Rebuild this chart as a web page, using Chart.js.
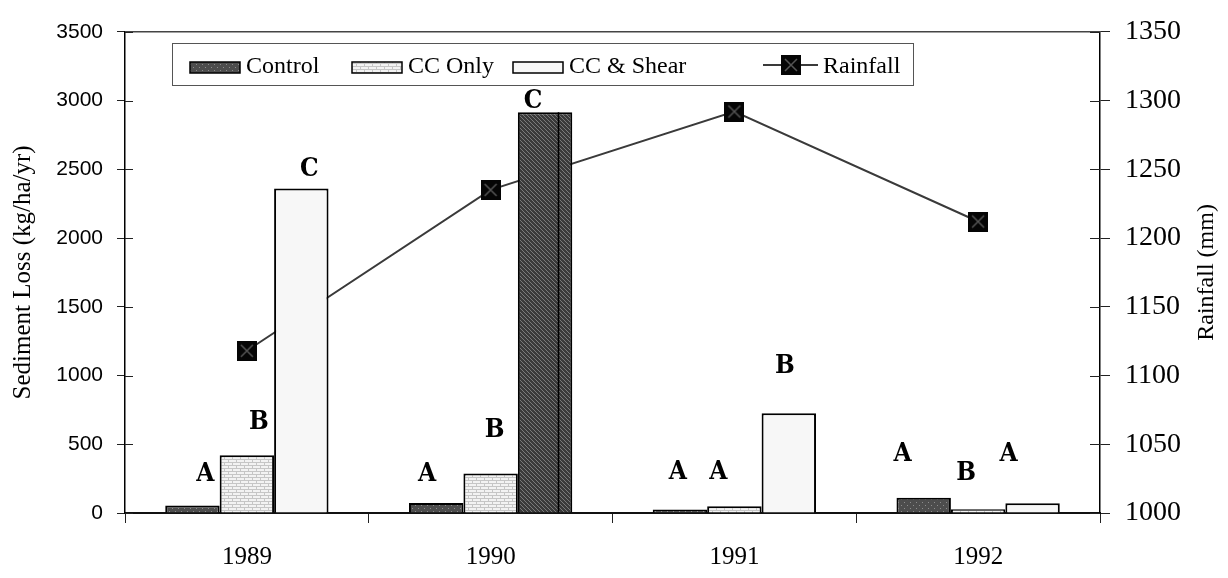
<!DOCTYPE html>
<html>
<head>
<meta charset="utf-8">
<script src="https://cdn.jsdelivr.net/npm/chart.js@4/dist/chart.umd.min.js"></script>
<style>
  html, body { margin: 0; padding: 0; background: #fff; }
  #wrap { width: 1228px; height: 578px; }
</style>
</head>
<body>
<div id="wrap"><canvas id="chart" width="1228" height="578"></canvas></div>
<script>
// values
const years = ['1989', '1990', '1991', '1992'];
const controlLoss = [55, 72, 25, 111];
const ccOnlyLoss = [420, 288, 50, 28];
const ccShearLoss = [2360, 2915, 725, 71];
const rainfall = [1118, 1235, 1292, 1212];

const lossTicks = [0, 500, 1000, 1500, 2000, 2500, 3000, 3500];
const rainTicks = [1000, 1050, 1100, 1150, 1200, 1250, 1300, 1350];

// significance letters, and the sediment-loss height they sit at
const controlLetters = ['A', 'A', 'A', 'A'];
const ccOnlyLetters = ['B', 'B', 'A', 'B'];
const ccShearLetters = ['C', 'C', 'B', 'A'];
const controlLetterAt = [285, 285, 295, 427];
const ccOnlyLetterAt = [660, 605, 295, 292];
const ccShearLetterAt = [2500, 2995, 1065, 427];
// small sideways nudge (px) of each letter from its bar centre
const letterShift = [[13, -9, -2, -21], [12, 4, -16, -12], [8, -12, -4, -24]];

const SERIF = '"Liberation Serif", "Times New Roman", serif';
const SANS = '"Liberation Sans", Arial, sans-serif';

function makePattern(w, h, paint) {
  const c = document.createElement('canvas');
  c.width = w; c.height = h;
  const g = c.getContext('2d');
  paint(g);
  return g.createPattern(c, 'repeat');
}

const dotted = makePattern(6, 6, g => {
  g.fillStyle = '#4d4d4d'; g.fillRect(0, 0, 6, 6);
  g.fillStyle = '#8c8c8c'; g.fillRect(1, 1, 1, 1); g.fillRect(4, 4, 1, 1);
});
const brick = makePattern(8, 6, g => {
  g.fillStyle = '#f3f3f3'; g.fillRect(0, 0, 8, 6);
  g.fillStyle = '#c6c6c6';
  g.fillRect(0, 0, 8, 1); g.fillRect(0, 3, 8, 1);
  g.fillRect(0, 0, 1, 3); g.fillRect(4, 3, 1, 3);
});
const hatch = makePattern(4, 4, g => {
  g.fillStyle = '#3a3a3a'; g.fillRect(0, 0, 4, 4);
  g.fillStyle = '#7a7a7a';
  for (let i = 0; i < 4; i++) g.fillRect(i, i, 1, 1);
});
const plain = '#f7f7f7';

const marker = document.createElement('canvas');
marker.width = 20; marker.height = 20;
(function () {
  const g = marker.getContext('2d');
  g.fillStyle = '#050505'; g.fillRect(0, 0, 20, 20);
  g.strokeStyle = '#555'; g.lineWidth = 1.5;
  g.beginPath(); g.moveTo(4, 4); g.lineTo(16, 16); g.moveTo(16, 4); g.lineTo(4, 16); g.stroke();
})();

const extras = {
  id: 'extras',
  beforeDatasetsDraw(chart) {
    const { ctx, chartArea: a, scales } = chart;
    ctx.save();
    ctx.strokeStyle = '#444';
    ctx.lineWidth = 1.5;
    ctx.beginPath();
    ctx.moveTo(a.left, a.top); ctx.lineTo(a.right, a.top);
    ctx.stroke();
    // inner halves of the crossing tick marks
    ctx.strokeStyle = '#222';
    ctx.lineWidth = 1;
    ctx.beginPath();
    lossTicks.forEach(v => {
      const y = Math.round(scales.y.getPixelForValue(v)) + 0.5;
      ctx.moveTo(a.left, y); ctx.lineTo(a.left + 8, y);
    });
    rainTicks.forEach(v => {
      const y = Math.round(scales.y2.getPixelForValue(v)) + 0.5;
      ctx.moveTo(a.right - 10, y); ctx.lineTo(a.right, y);
    });
    ctx.stroke();
    ctx.restore();
  },
  afterDatasetsDraw(chart) {
    // the hatched bar carries a thin seam line, as in the scan
    const { ctx } = chart;
    const ds = chart.data.datasets[2];
    ctx.save();
    ctx.strokeStyle = '#000';
    ctx.lineWidth = 1.5;
    chart.getDatasetMeta(2).data.forEach((el, j) => {
      if (ds.backgroundColor[j] !== hatch) return;
      const sx = Math.round(el.x + el.width * 0.23) + 0.5;
      ctx.beginPath(); ctx.moveTo(sx, el.y); ctx.lineTo(sx, el.base); ctx.stroke();
    });
    ctx.restore();
  },
  afterDraw(chart) {
    const { ctx, chartArea: a } = chart;
    ctx.save();

    // axis titles, both read bottom to top
    ctx.fillStyle = '#000';
    ctx.textAlign = 'center';
    ctx.textBaseline = 'middle';
    const midY = (a.top + a.bottom) / 2;
    ctx.font = '25px ' + SERIF;
    ctx.translate(23, midY); ctx.rotate(-Math.PI / 2);
    ctx.fillText('Sediment Loss (kg/ha/yr)', 0, 0);
    ctx.setTransform(1, 0, 0, 1, 0, 0);
    ctx.font = '24px ' + SERIF;
    ctx.translate(1207, midY); ctx.rotate(-Math.PI / 2);
    ctx.fillText('Rainfall (mm)', 0, 0);
    ctx.setTransform(1, 0, 0, 1, 0, 0);

    // letters over the bars
    const letters = [controlLetters, ccOnlyLetters, ccShearLetters];
    const heights = [controlLetterAt, ccOnlyLetterAt, ccShearLetterAt];
    ctx.font = 'bold 26px "DejaVu Serif Condensed", ' + SERIF;
    letters.forEach((set, i) => {
      const bars = chart.getDatasetMeta(i).data;
      set.forEach((t, j) => {
        ctx.fillText(t, bars[j].x + letterShift[i][j], chart.scales.y.getPixelForValue(heights[i][j]));
      });
    });

    // legend box inside the plot
    ctx.fillStyle = '#fff';
    ctx.fillRect(172, 43, 741, 42);
    ctx.strokeStyle = '#555';
    ctx.lineWidth = 1;
    ctx.strokeRect(172.5, 43.5, 741, 42);
    const itemX = [190, 352, 513, 763];
    ctx.font = '24px ' + SERIF;
    ctx.textAlign = 'left';
    ctx.textBaseline = 'alphabetic';
    chart.data.datasets.forEach((ds, i) => {
      const x = itemX[i];
      if (ds.type === 'line') {
        ctx.strokeStyle = ds.borderColor; ctx.lineWidth = 2;
        ctx.beginPath(); ctx.moveTo(x, 65); ctx.lineTo(x + 55, 65); ctx.stroke();
        ctx.drawImage(marker, x + 18, 55);
        ctx.fillStyle = '#000';
        ctx.fillText(ds.label, x + 60, 73);
      } else {
        const bg = Array.isArray(ds.backgroundColor) ? ds.backgroundColor[0] : ds.backgroundColor;
        ctx.fillStyle = bg; ctx.fillRect(x, 62, 50, 11);
        ctx.strokeStyle = '#000'; ctx.lineWidth = 1.5; ctx.strokeRect(x, 62, 50, 11);
        ctx.fillStyle = '#000';
        ctx.fillText(ds.label, x + 56, 73);
      }
    });
    ctx.restore();
  }
};

const barStyle = { borderColor: '#000', borderWidth: 2, barPercentage: 1, categoryPercentage: 0.67, yAxisID: 'y' };
const plainTick = v => String(v);

new Chart(document.getElementById('chart'), {
  type: 'bar',
  data: {
    labels: years,
    datasets: [
      { label: 'Control', data: controlLoss, backgroundColor: dotted, ...barStyle },
      { label: 'CC Only', data: ccOnlyLoss, backgroundColor: brick, ...barStyle },
      { label: 'CC & Shear', data: ccShearLoss, backgroundColor: [plain, hatch, plain, plain], ...barStyle },
      {
        type: 'line', label: 'Rainfall', data: rainfall, yAxisID: 'y2', order: 10,
        borderColor: '#3a3a3a', borderWidth: 2, tension: 0, fill: false,
        pointStyle: marker, pointRadius: 10
      }
    ]
  },
  options: {
    responsive: false,
    animation: false,
    devicePixelRatio: 1,
    layout: { padding: { top: 21, left: 0, right: 0, bottom: 0 } },
    plugins: { legend: { display: false }, tooltip: { enabled: false } },
    scales: {
      x: {
        offset: true,
        grid: { offset: true, drawOnChartArea: false, drawTicks: true, tickLength: 10, color: '#222' },
        border: { display: true, color: '#111', width: 2 },
        ticks: { color: '#000', font: { family: SERIF, size: 25 }, padding: 19 },
        afterFit(s) { s.height = 65; }
      },
      y: {
        position: 'left', min: 0, max: 3500,
        afterBuildTicks(s) { s.ticks = lossTicks.map(v => ({ value: v })); },
        grid: { drawOnChartArea: false, drawTicks: true, tickLength: 8, color: '#222' },
        border: { display: true, color: '#000', width: 1.5 },
        ticks: { color: '#000', font: { family: SANS, size: 21 }, padding: 14, callback: plainTick },
        afterFit(s) { s.width = 125; }
      },
      y2: {
        position: 'right', min: 1000, max: 1350,
        afterBuildTicks(s) { s.ticks = rainTicks.map(v => ({ value: v })); },
        grid: { drawOnChartArea: false, drawTicks: true, tickLength: 10, color: '#222' },
        border: { display: true, color: '#000', width: 1.5 },
        ticks: { color: '#000', font: { family: SERIF, size: 28 }, padding: 15, callback: plainTick },
        afterFit(s) { s.width = 128; }
      }
    }
  },
  plugins: [extras]
});
</script>
</body>
</html>
